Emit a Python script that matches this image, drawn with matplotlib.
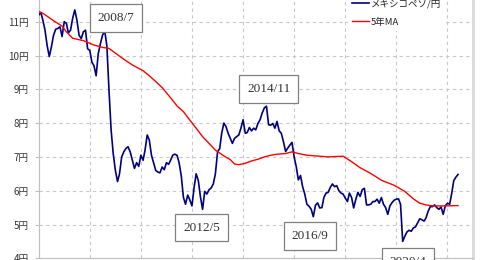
import matplotlib
matplotlib.use("Agg")
import matplotlib.pyplot as plt
import matplotlib.dates as mdates
import pandas as pd

plt.rcParams["font.family"] = ["Noto Sans CJK JP", "DejaVu Sans"]

# ── Data ─────────────────────────────────────────────────────────────────────
# Monthly MXN/JPY rate, 2006/01 .. 2022/06
START_MONTH = "2006-01-01"
peso_yen = [
    11.20, 11.27, 11.05, 10.75, 10.30, 9.97, 10.25, 10.60, 10.78, 10.80, 10.85, 10.56,
    11.00, 10.95, 10.67, 10.75, 11.10, 11.35, 11.05, 10.60, 10.50, 10.70, 10.75, 10.20,
    10.15, 9.80, 9.70, 9.40, 10.05, 10.35, 10.60, 10.73, 10.30, 9.00, 7.80, 7.10,
    6.60, 6.27, 6.50, 7.00, 7.15, 7.25, 7.30, 7.15, 6.90, 6.66, 6.83, 6.72,
    7.05, 6.90, 7.20, 7.65, 7.50, 7.05, 6.83, 6.60, 6.55, 6.53, 6.70, 6.62,
    6.83, 6.78, 6.90, 7.05, 7.08, 7.05, 6.83, 6.44, 5.80, 5.60, 5.87, 5.73,
    5.55, 6.10, 6.50, 6.30, 5.82, 5.45, 5.98, 5.90, 6.03, 6.08, 6.20, 6.50,
    7.15, 7.25, 7.70, 8.00, 7.90, 7.70, 7.55, 7.40, 7.55, 7.60, 7.65, 7.85,
    8.10, 7.70, 7.72, 7.87, 7.77, 7.85, 7.80, 7.99, 8.10, 8.30, 8.45, 8.50,
    7.95, 7.94, 7.99, 7.85, 8.05, 7.77, 7.70, 7.45, 7.16, 7.26, 7.35, 7.43,
    7.00, 6.70, 6.32, 6.45, 6.12, 5.90, 5.60, 5.54, 5.45, 5.23, 5.57, 5.64,
    5.49, 5.50, 5.80, 5.93, 5.95, 6.10, 6.20, 6.12, 6.15, 6.00, 5.93, 5.90,
    5.78, 5.68, 5.93, 5.80, 5.49, 5.75, 5.95, 5.83, 6.03, 6.07, 5.58, 5.58,
    5.60, 5.68, 5.68, 5.75, 5.63, 5.80, 5.60, 5.50, 5.30, 5.55, 5.65, 5.72,
    5.75, 5.76, 5.60, 4.50, 4.65, 4.78, 4.83, 4.80, 4.90, 4.93, 5.05, 5.17,
    5.14, 5.10, 5.20, 5.40, 5.53, 5.53, 5.58, 5.50, 5.45, 5.52, 5.30, 5.55,
    5.63, 5.60, 5.90, 6.30, 6.40, 6.48,
]

# 5-year moving average
ma_dates = [
    "2006-01", "2006-03", "2006-08", "2006-12", "2007-02", "2007-05", "2007-10",
    "2008-03", "2008-07", "2008-10", "2009-01", "2009-05", "2009-09", "2010-02",
    "2010-05", "2010-08", "2010-11", "2011-03", "2011-06", "2011-09", "2011-12",
    "2012-03", "2012-06", "2012-09", "2012-12", "2013-04", "2013-07", "2013-09",
    "2013-11", "2014-02", "2014-05", "2014-08", "2014-11", "2015-02", "2015-05",
    "2015-09", "2015-12", "2016-03", "2016-07", "2016-11", "2017-05", "2017-12",
    "2018-04", "2018-08", "2019-01", "2019-06", "2019-12", "2020-05", "2020-09",
    "2020-12", "2021-03", "2021-06", "2021-12", "2022-06",
]
ma_values = [
    11.30, 11.25, 11.03, 10.87, 10.70, 10.51, 10.44,
    10.31, 10.24, 10.21, 10.07, 9.89, 9.72, 9.55,
    9.40, 9.23, 9.05, 8.75, 8.51, 8.34, 8.09,
    7.85, 7.60, 7.40, 7.20, 7.03, 6.92, 6.79,
    6.77, 6.81, 6.88, 6.93, 7.00, 7.05, 7.08,
    7.10, 7.15, 7.10, 7.05, 7.03, 7.00, 7.02,
    6.86, 6.68, 6.51, 6.31, 6.16, 5.98, 5.76,
    5.63, 5.58, 5.55, 5.55, 5.56,
]

# annotation boxes: label, anchor date, anchor value
notes = [
    ("2008/7", "2009-01-10", 11.12),
    ("2012/5", "2012-05-20", 4.91),
    ("2014/11", "2015-01-05", 9.01),
    ("2016/9", "2016-08-15", 4.65),
    ("2020/4", "2020-06-15", 3.89),
]
y_ticks = [4, 5, 6, 7, 8, 9, 10, 11]

NAVY = "#000080"
RED = "#FF0000"
GRID = "#C8C8C8"

months = pd.date_range(START_MONTH, periods=len(peso_yen), freq="MS")
ma_x = pd.to_datetime(ma_dates)

fig = plt.figure(figsize=(4.97, 2.60), dpi=100)
ax = fig.add_axes([0.0779, 0.0065, 0.8738, 1.04])

ax.plot(months, peso_yen, color=NAVY, linewidth=1.2, label="メキシコペソ/円", zorder=3)
ax.plot(ma_x, ma_values, color=RED, linewidth=1.0, label="5年MA", zorder=3)

ax.set_xlim(pd.Timestamp("2006-01-01"), pd.Timestamp("2023-01-01"))
ax.set_ylim(4, 12)
ax.xaxis.set_major_locator(mdates.YearLocator(2))
ax.set_xticklabels([])
ax.set_yticks(y_ticks)
ax.set_yticklabels([f"{v}円" for v in y_ticks], fontsize=7, color="#333333")
ax.tick_params(axis="y", length=3, color="#BFBFBF", pad=4)
ax.tick_params(axis="x", length=0)
ax.grid(True, linestyle=(0, (3, 3)), color=GRID, linewidth=0.8)

for side in ["left", "bottom", "top"]:
    ax.spines[side].set_color("#BFBFBF")
    ax.spines[side].set_linewidth(0.8)
ax.spines["right"].set_color("#DDDDDD")
ax.spines["right"].set_linewidth(2.2)

for label, d, v in notes:
    ax.text(pd.Timestamp(d), v, label, ha="center", va="center",
            family="Liberation Serif", fontsize=9.5, color="#333333", zorder=5,
            bbox=dict(boxstyle="square,pad=0.6", fc="white", ec="#808080", lw=0.9))

leg = ax.legend(loc="center left", bbox_to_anchor=(0.700, 0.950),
                bbox_transform=fig.transFigure, borderaxespad=0,
                fontsize=6.8, handlelength=1.8, handletextpad=0.2,
                labelspacing=1.0, borderpad=0.4, fancybox=False,
                framealpha=1, facecolor="white", edgecolor="none")
for t in leg.get_texts():
    t.set_color("#222222")

fig.savefig("out.png", dpi=100, facecolor="white")
